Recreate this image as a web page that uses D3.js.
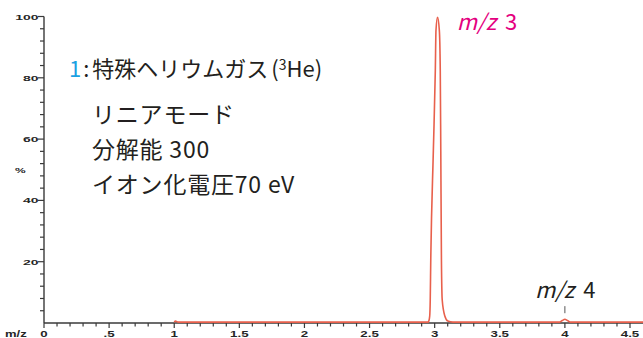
<!DOCTYPE html>
<html>
<head>
<meta charset="utf-8">
<script src="https://cdn.jsdelivr.net/npm/d3@7"></script>
<style>
  html, body { margin: 0; padding: 0; background: #fff; }
  svg { display: block; }
</style>
</head>
<body>
<svg id="chart" width="643" height="338"></svg>
<script>
// Mass spectrum of special helium gas (3He), m/z 1 – 4.6
const mzValues = [1.00, 1.01, 1.03, 2.95, 2.955, 2.962, 2.966, 2.970, 2.990, 3.005, 3.010, 3.022,
                  3.036, 3.043, 3.047, 3.052, 3.058, 3.078, 3.101, 3.14, 3.96, 3.98, 4.00, 4.02, 4.04, 4.60];
const intensity = [0.3, 0.6, 0.3, 0.3, 0.65, 2.3, 7.5, 20.5, 56.4, 82.4, 95.4, 99.7,
                   95.4, 82.4, 56.4, 20.5, 7.5, 2.3, 0.65, 0.3, 0.3, 0.8, 1.2, 0.8, 0.3, 0.3];

const xMajorTicks = [0, 0.5, 1, 1.5, 2, 2.5, 3, 3.5, 4, 4.5];
const xTickLabels = ["0", ".5", "1", "1.5", "2", "2.5", "3", "3.5", "4", "4.5"];
const yMajorTicks = [20, 40, 60, 80, 100];
const yTickLabels = ["20", "40", "60", "80", "100"];

const peakLabels = [
  { mz: 3.0, text: "3", color: "#e4007f" },
  { mz: 4.0, text: "4", color: "#231f20" }
];

const infoLines = ["リニアモード", "分解能 300", "イオン化電圧70 eV"];

const svg = d3.select("#chart");
const x = d3.scaleLinear().domain([0, 4.5]).range([44, 630]);
const y = d3.scaleLinear().domain([0, 100]).range([323, 16.5]);

const axisColor = "#3a3a3a";
const tickFont = "'Liberation Sans', Arial, sans-serif";
const tickColor = "#262626";

// x axis
const xAxisG = svg.append("g");
xAxisG.append("line")
  .attr("x1", x(0)).attr("x2", 643)
  .attr("y1", y(0)).attr("y2", y(0))
  .attr("stroke", axisColor).attr("stroke-width", 1.4);
const xMinor = d3.range(0, 46).map(i => i / 10).filter(v => x(v) <= 642);
xAxisG.selectAll("line.minor").data(xMinor).join("line")
  .attr("class", "minor")
  .attr("x1", d => x(d)).attr("x2", d => x(d))
  .attr("y1", y(0)).attr("y2", d => y(0) + (Math.abs(d * 2 - Math.round(d * 2)) < 1e-6 ? 5 : 3.5))
  .attr("stroke", axisColor).attr("stroke-width", 1.2);
xAxisG.selectAll("text.xl").data(xMajorTicks).join("text")
  .attr("class", "xl")
  .attr("transform", d => `translate(${x(d)},337) scale(1.4,1)`)
  .attr("text-anchor", "middle")
  .attr("font-family", tickFont).attr("font-weight", "bold").attr("font-size", 9.5)
  .attr("fill", tickColor)
  .text((d, i) => xTickLabels[i]);
svg.append("text")
  .attr("transform", "translate(5,337) scale(1.45,1)")
  .attr("font-family", tickFont).attr("font-weight", "bold").attr("font-size", 9)
  .attr("fill", tickColor).text("m/z");

// y axis
const yAxisG = svg.append("g");
yAxisG.append("line")
  .attr("x1", x(0)).attr("x2", x(0))
  .attr("y1", y(0)).attr("y2", y(100))
  .attr("stroke", axisColor).attr("stroke-width", 1.4);
const yMinor = d3.range(4, 101, 4);
yAxisG.selectAll("line.minor").data(yMinor).join("line")
  .attr("class", "minor")
  .attr("x1", x(0)).attr("x2", d => x(0) - (d % 20 === 0 ? 6 : 4))
  .attr("y1", d => y(d)).attr("y2", d => y(d))
  .attr("stroke", axisColor).attr("stroke-width", 1.2);
yAxisG.selectAll("text.yl").data(yMajorTicks).join("text")
  .attr("class", "yl")
  .attr("transform", d => `translate(38.5,${y(d) + 3}) scale(1.75,1)`)
  .attr("text-anchor", "end")
  .attr("font-family", tickFont).attr("font-weight", "bold").attr("font-size", 8)
  .attr("fill", tickColor)
  .text((d, i) => yTickLabels[i]);
svg.append("text")
  .attr("transform", "translate(15,173) scale(1.5,1)")
  .attr("font-family", tickFont).attr("font-weight", "bold").attr("font-size", 8)
  .attr("fill", tickColor).text("%");

// spectrum trace
const pts = mzValues.map((m, i) => [m, intensity[i]]);
const line = d3.line().x(d => x(d[0])).y(d => y(d[1])).curve(d3.curveMonotoneX);
svg.append("path")
  .attr("d", line(pts))
  .attr("fill", "none")
  .attr("stroke", "#e8604c")
  .attr("stroke-width", 1.6)
  .attr("stroke-linejoin", "round");

// small marker above the m/z 4 peak
svg.append("line")
  .attr("x1", x(4.0)).attr("x2", x(4.0))
  .attr("y1", y(5.5)).attr("y2", y(3.2))
  .attr("stroke", "#555").attr("stroke-width", 1);

// peak labels
const textFont = "'Noto Sans CJK JP', 'Noto Sans', sans-serif";
function mzLabel(px, py, num, color) {
  const t = svg.append("text")
    .attr("x", px).attr("y", py)
    .attr("font-family", textFont).attr("font-size", 22).attr("fill", color);
  t.append("tspan").attr("font-style", "italic").text("m/z");
  t.append("tspan").attr("dx", 9).text(num);
}
mzLabel(x(peakLabels[0].mz) + 22, 30, peakLabels[0].text, peakLabels[0].color);
mzLabel(x(peakLabels[1].mz) - 30, 298, peakLabels[1].text, peakLabels[1].color);

// info block
const title = svg.append("text")
  .attr("x", 69).attr("y", 77)
  .attr("font-family", textFont).attr("font-size", 22).attr("fill", "#231f20");
title.append("tspan").attr("fill", "#1ba1e2").text("1");
title.append("tspan").attr("dx", 2).text(":");
title.append("tspan").attr("dx", 3).text("特殊ヘリウムガス");
title.append("tspan").attr("dx", 3).text("(");
title.append("tspan").attr("font-size", 14).attr("dy", -7).text("3");
title.append("tspan").attr("dy", 7).text("He)");

svg.selectAll("text.info").data(infoLines).join("text")
  .attr("class", "info")
  .attr("x", 92)
  .attr("y", (d, i) => 123 + i * 35)
  .attr("font-family", textFont).attr("font-size", 23).attr("letter-spacing", 0.8)
  .attr("fill", "#231f20")
  .text(d => d);
</script>
</body>
</html>
